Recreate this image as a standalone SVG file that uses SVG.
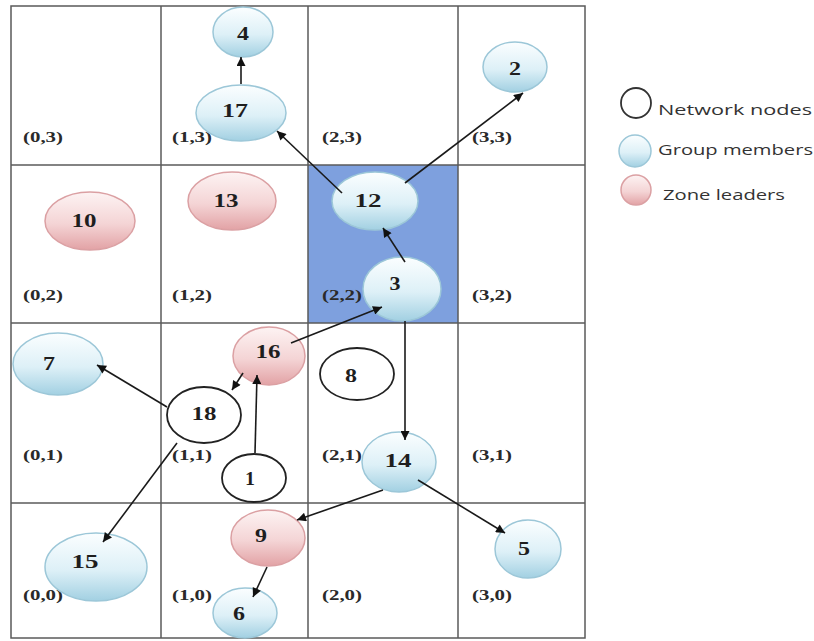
<svg xmlns="http://www.w3.org/2000/svg" width="814" height="641" viewBox="0 0 814 641">
<defs>
<linearGradient id="gBlue" x1="0" y1="0" x2="0" y2="1">
<stop offset="0" stop-color="#fbfeff"/>
<stop offset="0.55" stop-color="#ddf0f7"/>
<stop offset="1" stop-color="#a2d0e2"/>
</linearGradient>
<linearGradient id="gPink" x1="0" y1="0" x2="0" y2="1">
<stop offset="0" stop-color="#fdf3f3"/>
<stop offset="0.55" stop-color="#f4d4d5"/>
<stop offset="1" stop-color="#e2a2a5"/>
</linearGradient>
<marker id="ah" viewBox="0 0 10 10" refX="10" refY="5" markerWidth="11" markerHeight="9" markerUnits="userSpaceOnUse" orient="auto">
<path d="M0,0 L10,5 L0,10 z" fill="#111"/>
</marker>
</defs>
<style>
.grid{stroke:#5a5a5a;stroke-width:1.5;fill:none}
.gm{fill:url(#gBlue);stroke:#9cc7d8;stroke-width:1.5}
.zl{fill:url(#gPink);stroke:#dba0a3;stroke-width:1.5}
.nn{fill:#fff;stroke:#222;stroke-width:1.8}
.num{font-family:"Liberation Serif","Times New Roman",serif;font-weight:bold;font-size:19px;fill:#1e1e1e;text-anchor:middle}
.cell{font-family:"Liberation Serif","Times New Roman",serif;font-weight:bold;font-size:14px;fill:#2a2a2a}
.leg{font-family:"Open Sans","Noto Sans",sans-serif;font-size:14px;fill:#333}
.con line{stroke:#1a1a1a;stroke-width:1.6;marker-end:url(#ah)}
</style>
<rect width="814" height="641" fill="#fff"/>
<g id="grid">
<rect x="308" y="165" width="150" height="158" fill="#7ea0de"/>
<rect class="grid" x="11" y="6" width="574" height="632"/>
<line class="grid" x1="161" y1="6" x2="161" y2="638"/>
<line class="grid" x1="308" y1="6" x2="308" y2="638"/>
<line class="grid" x1="458" y1="6" x2="458" y2="638"/>
<line class="grid" x1="11" y1="165" x2="585" y2="165"/>
<line class="grid" x1="11" y1="323" x2="585" y2="323"/>
<line class="grid" x1="11" y1="503" x2="585" y2="503"/>
</g>
<g id="cell-labels">
<text class="cell" x="23" y="142" textLength="40" lengthAdjust="spacingAndGlyphs">(0,3)</text>
<text class="cell" x="172" y="142" textLength="40" lengthAdjust="spacingAndGlyphs">(1,3)</text>
<text class="cell" x="322" y="142" textLength="40" lengthAdjust="spacingAndGlyphs">(2,3)</text>
<text class="cell" x="472" y="142" textLength="40" lengthAdjust="spacingAndGlyphs">(3,3)</text>
<text class="cell" x="23" y="300" textLength="40" lengthAdjust="spacingAndGlyphs">(0,2)</text>
<text class="cell" x="172" y="300" textLength="40" lengthAdjust="spacingAndGlyphs">(1,2)</text>
<text class="cell" x="322" y="300" textLength="40" lengthAdjust="spacingAndGlyphs">(2,2)</text>
<text class="cell" x="472" y="300" textLength="40" lengthAdjust="spacingAndGlyphs">(3,2)</text>
<text class="cell" x="23" y="460" textLength="40" lengthAdjust="spacingAndGlyphs">(0,1)</text>
<text class="cell" x="172" y="460" textLength="40" lengthAdjust="spacingAndGlyphs">(1,1)</text>
<text class="cell" x="322" y="460" textLength="40" lengthAdjust="spacingAndGlyphs">(2,1)</text>
<text class="cell" x="472" y="460" textLength="40" lengthAdjust="spacingAndGlyphs">(3,1)</text>
<text class="cell" x="23" y="600" textLength="40" lengthAdjust="spacingAndGlyphs">(0,0)</text>
<text class="cell" x="172" y="600" textLength="40" lengthAdjust="spacingAndGlyphs">(1,0)</text>
<text class="cell" x="322" y="600" textLength="40" lengthAdjust="spacingAndGlyphs">(2,0)</text>
<text class="cell" x="472" y="600" textLength="40" lengthAdjust="spacingAndGlyphs">(3,0)</text>
</g>
<g id="node-4"><ellipse class="gm" cx="243" cy="32" rx="30" ry="25"/><text class="num" x="243" y="40" textLength="12" lengthAdjust="spacingAndGlyphs">4</text></g>
<g id="node-17"><ellipse class="gm" cx="241" cy="113" rx="45" ry="28"/><text class="num" x="235" y="117" textLength="26" lengthAdjust="spacingAndGlyphs">17</text></g>
<g id="node-2"><ellipse class="gm" cx="515" cy="67" rx="32" ry="25"/><text class="num" x="515" y="75" textLength="12" lengthAdjust="spacingAndGlyphs">2</text></g>
<g id="node-10"><ellipse class="zl" cx="90" cy="221" rx="45" ry="29"/><text class="num" x="84" y="227" textLength="25" lengthAdjust="spacingAndGlyphs">10</text></g>
<g id="node-13"><ellipse class="zl" cx="232" cy="201" rx="44" ry="29"/><text class="num" x="226" y="207" textLength="25" lengthAdjust="spacingAndGlyphs">13</text></g>
<g id="node-12"><ellipse class="gm" cx="375" cy="201" rx="43" ry="29"/><text class="num" x="368" y="207" textLength="27" lengthAdjust="spacingAndGlyphs">12</text></g>
<g id="node-3"><ellipse class="gm" cx="402" cy="289" rx="39" ry="32"/><text class="num" x="395" y="290" textLength="11" lengthAdjust="spacingAndGlyphs">3</text></g>
<g id="node-7"><ellipse class="gm" cx="58" cy="364" rx="45" ry="31"/><text class="num" x="49" y="370" textLength="12" lengthAdjust="spacingAndGlyphs">7</text></g>
<g id="node-16"><ellipse class="zl" cx="269" cy="356" rx="36" ry="29"/><text class="num" x="268" y="358" textLength="25" lengthAdjust="spacingAndGlyphs">16</text></g>
<g id="node-8"><ellipse class="nn" cx="357" cy="374" rx="37" ry="26"/><text class="num" x="351" y="382" textLength="12" lengthAdjust="spacingAndGlyphs">8</text></g>
<g id="node-18"><ellipse class="nn" cx="204" cy="415" rx="37" ry="28"/><text class="num" x="204" y="420" textLength="25" lengthAdjust="spacingAndGlyphs">18</text></g>
<g id="node-1"><ellipse class="nn" cx="254" cy="478" rx="32" ry="24"/><text class="num" x="250" y="485" textLength="10" lengthAdjust="spacingAndGlyphs">1</text></g>
<g id="node-14"><ellipse class="gm" cx="399" cy="462" rx="37" ry="30"/><text class="num" x="398" y="467" textLength="27" lengthAdjust="spacingAndGlyphs">14</text></g>
<g id="node-15"><ellipse class="gm" cx="96" cy="567" rx="51" ry="34"/><text class="num" x="85" y="568" textLength="27" lengthAdjust="spacingAndGlyphs">15</text></g>
<g id="node-9"><ellipse class="zl" cx="268" cy="538" rx="37" ry="28"/><text class="num" x="261" y="542" textLength="12" lengthAdjust="spacingAndGlyphs">9</text></g>
<g id="node-6"><ellipse class="gm" cx="245" cy="613" rx="32" ry="25"/><text class="num" x="239" y="620" textLength="12" lengthAdjust="spacingAndGlyphs">6</text></g>
<g id="node-5"><ellipse class="gm" cx="528" cy="549" rx="33" ry="29"/><text class="num" x="524" y="555" textLength="12" lengthAdjust="spacingAndGlyphs">5</text></g>
<g id="connectors" class="con">
<line x1="241" y1="84" x2="241" y2="57"/>
<line x1="342" y1="193" x2="277" y2="131"/>
<line x1="405" y1="183" x2="523" y2="93"/>
<line x1="405" y1="262" x2="383" y2="228"/>
<line x1="291" y1="343" x2="382" y2="307"/>
<line x1="405" y1="321" x2="405" y2="440"/>
<line x1="243" y1="373" x2="232" y2="390"/>
<line x1="255" y1="453" x2="257" y2="375"/>
<line x1="167" y1="407" x2="97" y2="365"/>
<line x1="177" y1="443" x2="103" y2="542"/>
<line x1="383" y1="490" x2="297" y2="520"/>
<line x1="418" y1="480" x2="505" y2="533"/>
<line x1="267" y1="567" x2="253" y2="597"/>
</g>
<g id="legend">
<circle cx="636" cy="103" r="15" fill="#fff" stroke="#333" stroke-width="1.8"/>
<circle cx="635" cy="151" r="16" fill="url(#gBlue)" stroke="#9cc7d8" stroke-width="1.5"/>
<circle cx="636" cy="190" r="15" fill="url(#gPink)" stroke="#dba0a3" stroke-width="1.5"/>
<text class="leg" x="658" y="115" textLength="154" lengthAdjust="spacingAndGlyphs">Network nodes</text>
<text class="leg" x="658" y="155" textLength="155" lengthAdjust="spacingAndGlyphs">Group members</text>
<text class="leg" x="663" y="200" textLength="122" lengthAdjust="spacingAndGlyphs">Zone leaders</text>
</g>
</svg>
